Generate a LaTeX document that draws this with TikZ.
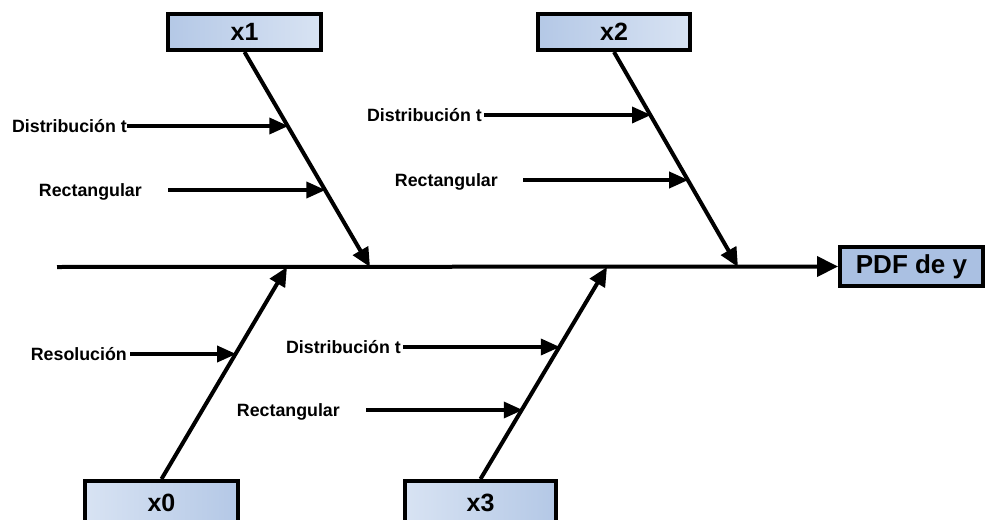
\documentclass[tikz,border=0pt]{standalone}
\usepackage{fontspec}
\setmainfont{Liberation Sans}
\usetikzlibrary{arrows.meta,calc}
\definecolor{boxdark}{RGB}{180,200,230}
\definecolor{boxlight}{RGB}{216,227,243}
\definecolor{pdfblue}{RGB}{170,192,226}
\tikzset{
  cbox/.style={draw,line width=4pt,inner sep=0pt,minimum width=153pt,minimum height=36pt,
    font=\bfseries\fontsize{25}{27}\selectfont},
  clab/.style={anchor=east,inner sep=0pt,text height=13pt,text depth=0pt,
    font=\bfseries\fontsize{17.8}{20}\selectfont},
  bone/.style={line width=4pt,-{Triangle[length=19pt,width=17pt]}},
  twig/.style={line width=3.5pt,-{Triangle[length=19pt,width=16pt]}}
}
\begin{document}
\begin{tikzpicture}[x=1pt,y=-1pt]
\useasboundingbox (0,0) rectangle (987,519);
% causes
\node[cbox,left color=boxdark,right color=boxlight] (x1) at (244.5,32) {x1};
\node[cbox,left color=boxdark,right color=boxlight,minimum width=152pt] (x2) at (614,32) {x2};
\node[cbox,left color=boxlight,right color=boxdark,minimum height=46pt] (x0) at (161.5,504) {\raisebox{2pt}{x0}};
\node[cbox,left color=boxlight,right color=boxdark,minimum width=151pt,minimum height=46pt] (x3) at (480.5,504) {\raisebox{2pt}{x3}};
% effect
\node[cbox,fill=pdfblue,minimum width=143pt,minimum height=39pt,
  font=\bfseries\fontsize{26}{28}\selectfont] (y) at (911.5,266.5) {PDF de y};
\coordinate (s) at (57,267);
\coordinate (b0) at (287,267);
\coordinate (b1) at (370,267);
\coordinate (b3) at (607,267);
\coordinate (b2) at (738,267);
\draw[bone,-{Triangle[length=21pt,width=20pt]}] (s) -- (y.west);
\draw[bone] (x1.south) -- (b1);
\draw[bone] (x2.south) -- (b2);
\draw[bone] (x0.north) -- (b0);
\draw[bone] (x3.north) -- (b3);
% points on the bones
\coordinate (t11) at ($(x1.south)!0.3495!(b1)$);
\coordinate (t12) at ($(x1.south)!0.6448!(b1)$);
\coordinate (t21) at ($(x2.south)!0.2987!(b2)$);
\coordinate (t22) at ($(x2.south)!0.5986!(b2)$);
\coordinate (t01) at ($(x0.north)!0.5949!(b0)$);
\coordinate (t31) at ($(x3.north)!0.6275!(b3)$);
\coordinate (t32) at ($(x3.north)!0.3341!(b3)$);
% sources
\node[clab] (l11) at (127,126) {Distribución t};
\node[clab] (l12) at (142,190) {Rectangular};
\node[clab] (l21) at (482,115) {Distribución t};
\node[clab] (l22) at (498,180) {Rectangular};
\node[clab] (l01) at (127,354) {Resolución};
\node[clab] (l31) at (401,347) {Distribución t};
\node[clab] (l32) at (340,410) {Rectangular};
\draw[twig] (l11.east) -- (l11.east -| t11);
\draw[twig,shorten <=26pt] (l12.east) -- (l12.east -| t12);
\draw[twig,shorten <=2pt] (l21.east) -- (l21.east -| t21);
\draw[twig,shorten <=25pt] (l22.east) -- (l22.east -| t22);
\draw[twig,shorten <=3pt] (l01.east) -- (l01.east -| t01);
\draw[twig,shorten <=2pt] (l31.east) -- (l31.east -| t31);
\draw[twig,shorten <=26pt] (l32.east) -- (l32.east -| t32);
\end{tikzpicture}
\end{document}
